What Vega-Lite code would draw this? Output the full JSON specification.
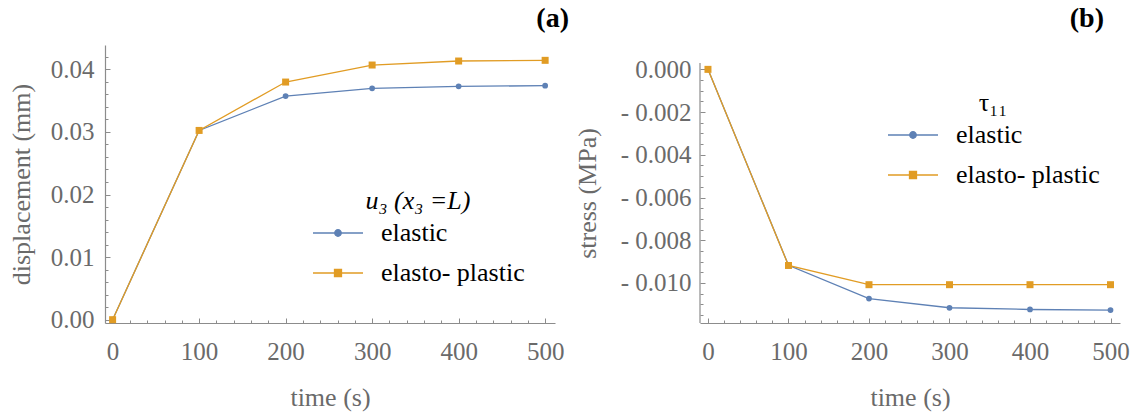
{
  "$schema": "https://vega.github.io/schema/vega-lite/v6.json",
  "background": "white",
  "padding": {"left": 8, "top": 5, "right": 5, "bottom": 5},
  "config": {
    "font": "Liberation Serif",
    "view": {"stroke": null},
    "text": {"font": "Liberation Serif"},
    "title": {"font": "Liberation Serif"},
    "axis": {
      "labelFont": "Liberation Serif", "titleFont": "Liberation Serif",
      "labelFontSize": 25, "titleFontSize": 26,
      "labelColor": "#6a6a6a", "titleColor": "#6a6a6a", "titleFontWeight": "normal",
      "domainColor": "#8c8c8c", "tickColor": "#8c8c8c", "domainWidth": 1.2, "tickWidth": 1,
      "grid": false, "labelFlush": false, "labelOverlap": false
    },
    "legend": {
      "orient": "none", "padding": 0,
      "titleFont": "Liberation Serif", "titleFontSize": 26, "titleFontWeight": "normal", "titleColor": "black",
      "titleAnchor": "middle", "titlePadding": -7,
      "labelFont": "Liberation Serif", "labelFontSize": 26, "labelColor": "black",
      "labelOffset": 17, "rowPadding": 1, "symbolSize": 2500
    }
  },
  "datasets": {
    "disp": [
      {"time": 0, "value": 0, "series": "elastic"},
      {"time": 100, "value": 0.03024, "series": "elastic"},
      {"time": 200, "value": 0.03573, "series": "elastic"},
      {"time": 300, "value": 0.03696, "series": "elastic"},
      {"time": 400, "value": 0.03728, "series": "elastic"},
      {"time": 500, "value": 0.03739, "series": "elastic"},
      {"time": 0, "value": 0, "series": "elasto-plastic"},
      {"time": 100, "value": 0.03024, "series": "elasto-plastic"},
      {"time": 200, "value": 0.03797, "series": "elasto-plastic"},
      {"time": 300, "value": 0.04069, "series": "elasto-plastic"},
      {"time": 400, "value": 0.04133, "series": "elasto-plastic"},
      {"time": 500, "value": 0.04144, "series": "elasto-plastic"}
    ],
    "stress": [
      {"time": 0, "value": 0, "series": "elastic"},
      {"time": 100, "value": -0.00917, "series": "elastic"},
      {"time": 200, "value": -0.01073, "series": "elastic"},
      {"time": 300, "value": -0.01116, "series": "elastic"},
      {"time": 400, "value": -0.01124, "series": "elastic"},
      {"time": 500, "value": -0.01127, "series": "elastic"},
      {"time": 0, "value": 0, "series": "elasto-plastic"},
      {"time": 100, "value": -0.00918, "series": "elasto-plastic"},
      {"time": 200, "value": -0.01008, "series": "elasto-plastic"},
      {"time": 300, "value": -0.01008, "series": "elasto-plastic"},
      {"time": 400, "value": -0.01008, "series": "elasto-plastic"},
      {"time": 500, "value": -0.01008, "series": "elasto-plastic"}
    ],
    "one": [{"k": 1}]
  },
  "bounds": "flush",
  "spacing": 145,
  "resolve": {"scale": {"color": "independent"}, "legend": {"color": "independent"}},
  "hconcat": [
    {
      "width": 450, "height": 278,
      "title": {"text": "(a)", "anchor": "end", "frame": "group", "dx": 14, "offset": -10, "baseline": "alphabetic", "fontSize": 28, "fontWeight": "bold", "color": "black", "font": "Liberation Serif"},
      "data": {"name": "disp"},
      "resolve": {"axis": {"x": "independent", "y": "independent"}},
      "layer": [
        {
          "mark": {"type": "line", "strokeWidth": 1.3},
          "encoding": {
            "x": {"field": "time", "type": "quantitative", "scale": {"domain": [-8.8, 511.4], "nice": false, "zero": false},
              "axis": {"orient": "bottom", "title": "time (s)", "values": [0, 100, 200, 300, 400, 500], "format": "d", "tickSize": -5, "labelPadding": 21, "titlePadding": 20, "labelFont": "Liberation Serif", "titleFont": "Liberation Serif"}},
            "y": {"field": "value", "type": "quantitative", "scale": {"domain": [-0.00053, 0.04389], "nice": false, "zero": false},
              "axis": {"orient": "left", "title": "displacement (mm)", "values": [0, 0.01, 0.02, 0.03, 0.04], "format": ".2f", "tickSize": -5, "labelPadding": 16, "titlePadding": 16, "labelFont": "Liberation Serif", "titleFont": "Liberation Serif"}},
            "color": {"field": "series", "type": "nominal", "scale": {"domain": ["elastic", "elasto-plastic"], "range": ["#5E81B5", "#E19C24"]},
              "legend": {"title": "u₃ (x₃ =L)", "titleFontStyle": "italic", "legendX": 207, "legendY": 143,
                "labelFont": "Liberation Serif", "titleFont": "Liberation Serif", "symbolSize": 2500,
                "labelExpr": "datum.label == 'elasto-plastic' ? 'elasto- plastic' : datum.label",
                "encode": {"symbols": {"update": {
                  "shape": {"signal": "datum.value == 'elastic' ? 'M-1,0H1M-0.13,0A0.13,0.13,0,1,1,0.13,0A0.13,0.13,0,1,1,-0.13,0Z' : 'M-1,0H1M-0.14,-0.14H0.14V0.14H-0.14Z'"},
                  "size": {"value": 2500},
                  "fill": {"signal": "datum.value == 'elastic' ? '#5E81B5' : '#E19C24'"},
                  "stroke": {"signal": "datum.value == 'elastic' ? '#5E81B5' : '#E19C24'"},
                  "strokeWidth": {"value": 1.3}, "opacity": {"value": 1}, "fillOpacity": {"value": 1}, "strokeOpacity": {"value": 1}}}}}}
          }
        },
        {
          "transform": [{"filter": "datum.series == 'elastic'"}],
          "mark": {"type": "point", "shape": "circle", "filled": true, "size": 33, "opacity": 1},
          "encoding": {
            "x": {"field": "time", "type": "quantitative",
              "axis": {"orient": "bottom", "title": null, "labels": false, "domain": false, "values": [20, 40, 60, 80, 120, 140, 160, 180, 220, 240, 260, 280, 320, 340, 360, 380, 420, 440, 460, 480], "tickSize": -3}},
            "y": {"field": "value", "type": "quantitative",
              "axis": {"orient": "left", "title": null, "labels": false, "domain": false, "values": [0.002, 0.004, 0.006, 0.008, 0.012, 0.014, 0.016, 0.018, 0.022, 0.024, 0.026, 0.028, 0.032, 0.034, 0.036, 0.038, 0.042], "tickSize": -3}},
            "color": {"field": "series", "type": "nominal"}
          }
        },
        {
          "transform": [{"filter": "datum.series == 'elasto-plastic'"}],
          "mark": {"type": "point", "shape": "square", "filled": true, "size": 49, "opacity": 1},
          "encoding": {
            "x": {"field": "time", "type": "quantitative", "axis": null},
            "y": {"field": "value", "type": "quantitative", "axis": null},
            "color": {"field": "series", "type": "nominal"}
          }
        }
      ]
    },
    {
      "width": 420, "height": 278,
      "title": {"text": "(b)", "anchor": "end", "frame": "group", "dx": -16, "offset": -10, "baseline": "alphabetic", "fontSize": 28, "fontWeight": "bold", "color": "black", "font": "Liberation Serif"},
      "data": {"name": "stress"},
      "resolve": {"axis": {"x": "independent", "y": "independent"}},
      "layer": [
        {
          "mark": {"type": "line", "strokeWidth": 1.3},
          "encoding": {
            "x": {"field": "time", "type": "quantitative", "scale": {"domain": [-9.9, 511.8], "nice": false, "zero": false},
              "axis": {"orient": "bottom", "title": "time (s)", "values": [0, 100, 200, 300, 400, 500], "format": "d", "tickSize": -5, "labelPadding": 21, "titlePadding": 20, "labelFont": "Liberation Serif", "titleFont": "Liberation Serif"}},
            "y": {"field": "value", "type": "quantitative", "scale": {"domain": [-0.011873, 0.00114], "nice": false, "zero": false},
              "axis": {"orient": "left", "title": "stress (MPa)", "titleY": 148, "domain": false, "values": [0, -0.002, -0.004, -0.006, -0.008, -0.01],
                "labelExpr": "datum.value < -0.0000001 ? '- ' + format(-datum.value, '.3f') : format(0, '.3f')", "tickSize": -5, "labelPadding": 14, "titlePadding": 20, "labelFont": "Liberation Serif", "titleFont": "Liberation Serif"}},
            "color": {"field": "series", "type": "nominal", "scale": {"domain": ["elastic", "elasto-plastic"], "range": ["#5E81B5", "#E19C24"]},
              "legend": {"title": "τ₁₁", "legendX": 187, "legendY": 45,
                "labelFont": "Liberation Serif", "titleFont": "Liberation Serif", "symbolSize": 2500,
                "labelExpr": "datum.label == 'elasto-plastic' ? 'elasto- plastic' : datum.label",
                "encode": {"symbols": {"update": {
                  "shape": {"signal": "datum.value == 'elastic' ? 'M-1,0H1M-0.13,0A0.13,0.13,0,1,1,0.13,0A0.13,0.13,0,1,1,-0.13,0Z' : 'M-1,0H1M-0.14,-0.14H0.14V0.14H-0.14Z'"},
                  "size": {"value": 2500},
                  "fill": {"signal": "datum.value == 'elastic' ? '#5E81B5' : '#E19C24'"},
                  "stroke": {"signal": "datum.value == 'elastic' ? '#5E81B5' : '#E19C24'"},
                  "strokeWidth": {"value": 1.3}, "opacity": {"value": 1}, "fillOpacity": {"value": 1}, "strokeOpacity": {"value": 1}}}}}}
          }
        },
        {
          "transform": [{"filter": "datum.series == 'elastic'"}],
          "mark": {"type": "point", "shape": "circle", "filled": true, "size": 33, "opacity": 1},
          "encoding": {
            "x": {"field": "time", "type": "quantitative",
              "axis": {"orient": "bottom", "title": null, "labels": false, "domain": false, "values": [20, 40, 60, 80, 120, 140, 160, 180, 220, 240, 260, 280, 320, 340, 360, 380, 420, 440, 460, 480], "tickSize": -3}},
            "y": {"field": "value", "type": "quantitative",
              "axis": {"orient": "left", "title": null, "labels": false, "domain": false, "values": [-0.0005, -0.001, -0.0015, -0.0025, -0.003, -0.0035, -0.0045, -0.005, -0.0055, -0.0065, -0.007, -0.0075, -0.0085, -0.009, -0.0095, -0.0105, -0.011, -0.0115], "tickSize": -3}},
            "color": {"field": "series", "type": "nominal"}
          }
        },
        {
          "transform": [{"filter": "datum.series == 'elasto-plastic'"}],
          "mark": {"type": "point", "shape": "square", "filled": true, "size": 49, "opacity": 1},
          "encoding": {
            "x": {"field": "time", "type": "quantitative", "axis": null},
            "y": {"field": "value", "type": "quantitative", "axis": null},
            "color": {"field": "series", "type": "nominal"}
          }
        },
        {
          "data": {"name": "one"},
          "mark": {"type": "rule", "color": "#8c8c8c", "strokeWidth": 1.2},
          "encoding": {
            "x": {"datum": -9.9, "type": "quantitative", "axis": null},
            "y": {"datum": -0.011873, "type": "quantitative", "axis": null},
            "y2": {"datum": 0.0003}
          }
        }
      ]
    }
  ]
}
